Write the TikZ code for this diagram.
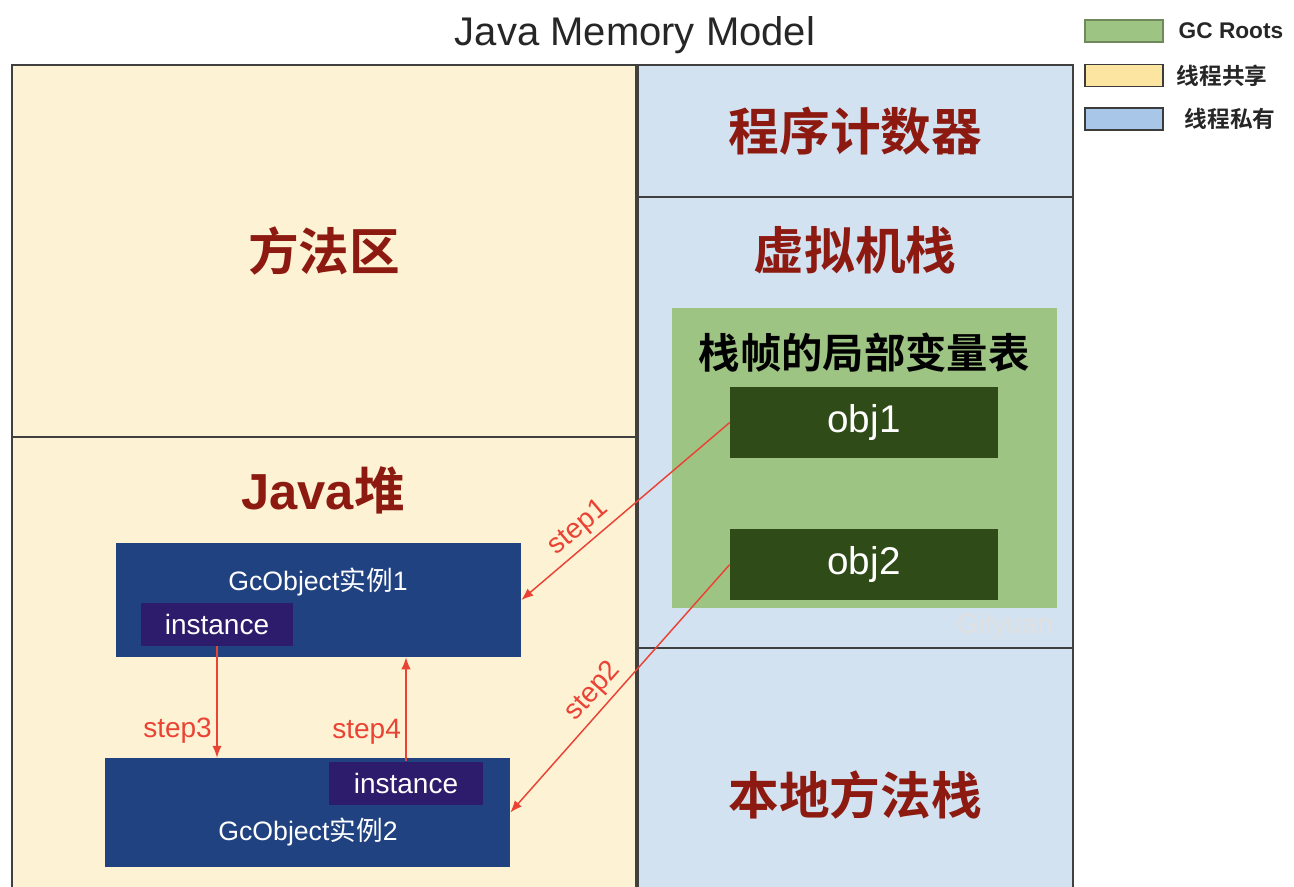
\documentclass[tikz,border=0pt]{standalone}
\usepackage{fontspec}
\setmainfont{Liberation Sans}
\newfontfamily\cjk{Noto Sans CJK SC}[BoldFont={Noto Sans CJK SC Bold}]
\usetikzlibrary{positioning,arrows.meta}

\definecolor{sharedfill}{RGB}{253,242,212}
\definecolor{privfill}{RGB}{211,226,241}
\definecolor{rootfill}{RGB}{158,196,132}
\definecolor{objfill}{RGB}{47,75,24}
\definecolor{gcfill}{RGB}{33,66,128}
\definecolor{insfill}{RGB}{45,28,108}
\definecolor{areared}{RGB}{140,26,17}
\definecolor{stepred}{RGB}{234,67,53}
\definecolor{legyellow}{RGB}{252,229,160}
\definecolor{legblue}{RGB}{168,198,232}
\definecolor{legborder}{RGB}{60,60,60}
\newcommand{\pxu}{0.75pt}

\begin{document}
\begin{tikzpicture}[
  x=0.75pt, y=-0.75pt,
  >={Latex[length=9pt,width=7pt]},
  % memory areas
  region/.style={
    draw=black!75, line width=1.4pt, inner sep=0pt
  },
  shared/.style={region, fill=sharedfill},
  private/.style={region, fill=privfill},
  arealabel/.style={font=\cjk\bfseries\fontsize{38}{40}\selectfont, text=areared},
  % boxes inside the areas
  objbox/.style={fill=objfill, text=white, minimum width=268*\pxu,
    minimum height=71*\pxu, font=\fontsize{29}{31}\selectfont},
  gcbox/.style={fill=gcfill, minimum width=405*\pxu, inner sep=0pt},
  gctext/.style={text=white, font=\fontsize{20}{22}\selectfont},
  insbox/.style={fill=insfill, text=white, minimum height=43*\pxu,
    font=\fontsize{21}{23}\selectfont},
  % references
  steparrow/.style={->, draw=stepred, line width=1.1pt},
  steplabel/.style={text=stepred, font=\fontsize{21}{23}\selectfont},
  % legend
  legbox/.style={draw=legborder, line width=1.2pt, minimum width=78*\pxu,
    minimum height=22*\pxu, inner sep=0pt},
  legtext/.style={anchor=west, font=\cjk\bfseries\fontsize{17}{19}\selectfont,
    text=black!85},
]

% fixed canvas, same proportions as the reference
\useasboundingbox (0,0) rectangle (1294,886);

% --- Title ---
\node[font=\fontsize{30}{32}\selectfont, text=black!85] (title) at (635,35) {Java Memory Model};

% --- Shared areas (left column) ---
\node[shared, minimum width=624*\pxu, minimum height=372*\pxu, arealabel] (method) at (324,251) {方法区};
\node[shared, minimum width=624*\pxu, minimum height=456*\pxu] (heap) at (324,665) {};
\node[arealabel, font=\bfseries\fontsize{38}{40}\selectfont] (heaplabel) at (323,490) {Java{\cjk\bfseries 堆}};

% --- Private areas (right column) ---
\node[private, minimum width=435*\pxu, minimum height=132*\pxu, arealabel] (pc) at (855.5,131) {程序计数器};
\node[private, minimum width=435*\pxu, minimum height=451*\pxu] (vmstack) at (855.5,422.5) {};
\node[arealabel] (vmlabel) at (855,250) {虚拟机栈};
\node[private, minimum width=435*\pxu, minimum height=246*\pxu] (native) at (855.5,771) {};
\node[arealabel] (nativelabel) at (855,795) {本地方法栈};

% --- Local variable table of the stack frame ---
\node[fill=rootfill, minimum width=385*\pxu, minimum height=300*\pxu] (frame) at (864.5,458) {};
\node[font=\cjk\bfseries\fontsize{31}{33}\selectfont] (frametitle) at (864,353) {栈帧的局部变量表};
\node[objbox] (obj1) at (864,422.5) {obj1};
\node[objbox] (obj2) at (864,564.5) {obj2};
\node[text=black!12, font=\fontsize{21}{23}\selectfont] (mark) at (1005,626) {Gityuan};

% --- Objects on the heap ---
\node[gcbox, minimum height=114*\pxu] (gc1) at (318.5,600) {};
\node[gctext] (gc1text) at (318,582) {GcObject{\cjk 实例}1};
\node[insbox, minimum width=152*\pxu] (ins1) at (217,624.5) {instance};

\node[gcbox, minimum height=109*\pxu] (gc2) at (307.5,812.5) {};
\node[insbox, minimum width=154*\pxu] (ins2) at (406,783) {instance};
\node[gctext] (gc2text) at (308,832) {GcObject{\cjk 实例}2};

% --- References ---
\draw[steparrow] (obj1.west) -- node[steplabel, sloped, above, pos=0.67] {step1} (gc1.east);
\draw[steparrow] (obj2.west) -- node[steplabel, sloped, above, pos=0.56] {step2} (gc2.east);
\draw[steparrow] (ins1.south) -- node[steplabel, left, pos=0.76] {step3} (ins1.south |- gc2.north);
\draw[steparrow] (ins2.north) -- node[steplabel, left, pos=0.28] {step4} (ins2.north |- gc1.south);

% --- Legend ---
\node[legbox, fill=rootfill, draw=rootfill!70!black] (legroot) at (1124,31) {};
\node[legtext, font=\bfseries\fontsize{17}{19}\selectfont] (legroottext) at (1174,31) {GC Roots};
\node[legbox, fill=legyellow] (legshared) at (1124,75.5) {};
\node[legtext] (legsharedtext) at (1172,75.5) {线程共享};
\node[legbox, fill=legblue] (legpriv) at (1124,119) {};
\node[legtext] (legprivtext) at (1180,119) {线程私有};

\end{tikzpicture}
\end{document}
